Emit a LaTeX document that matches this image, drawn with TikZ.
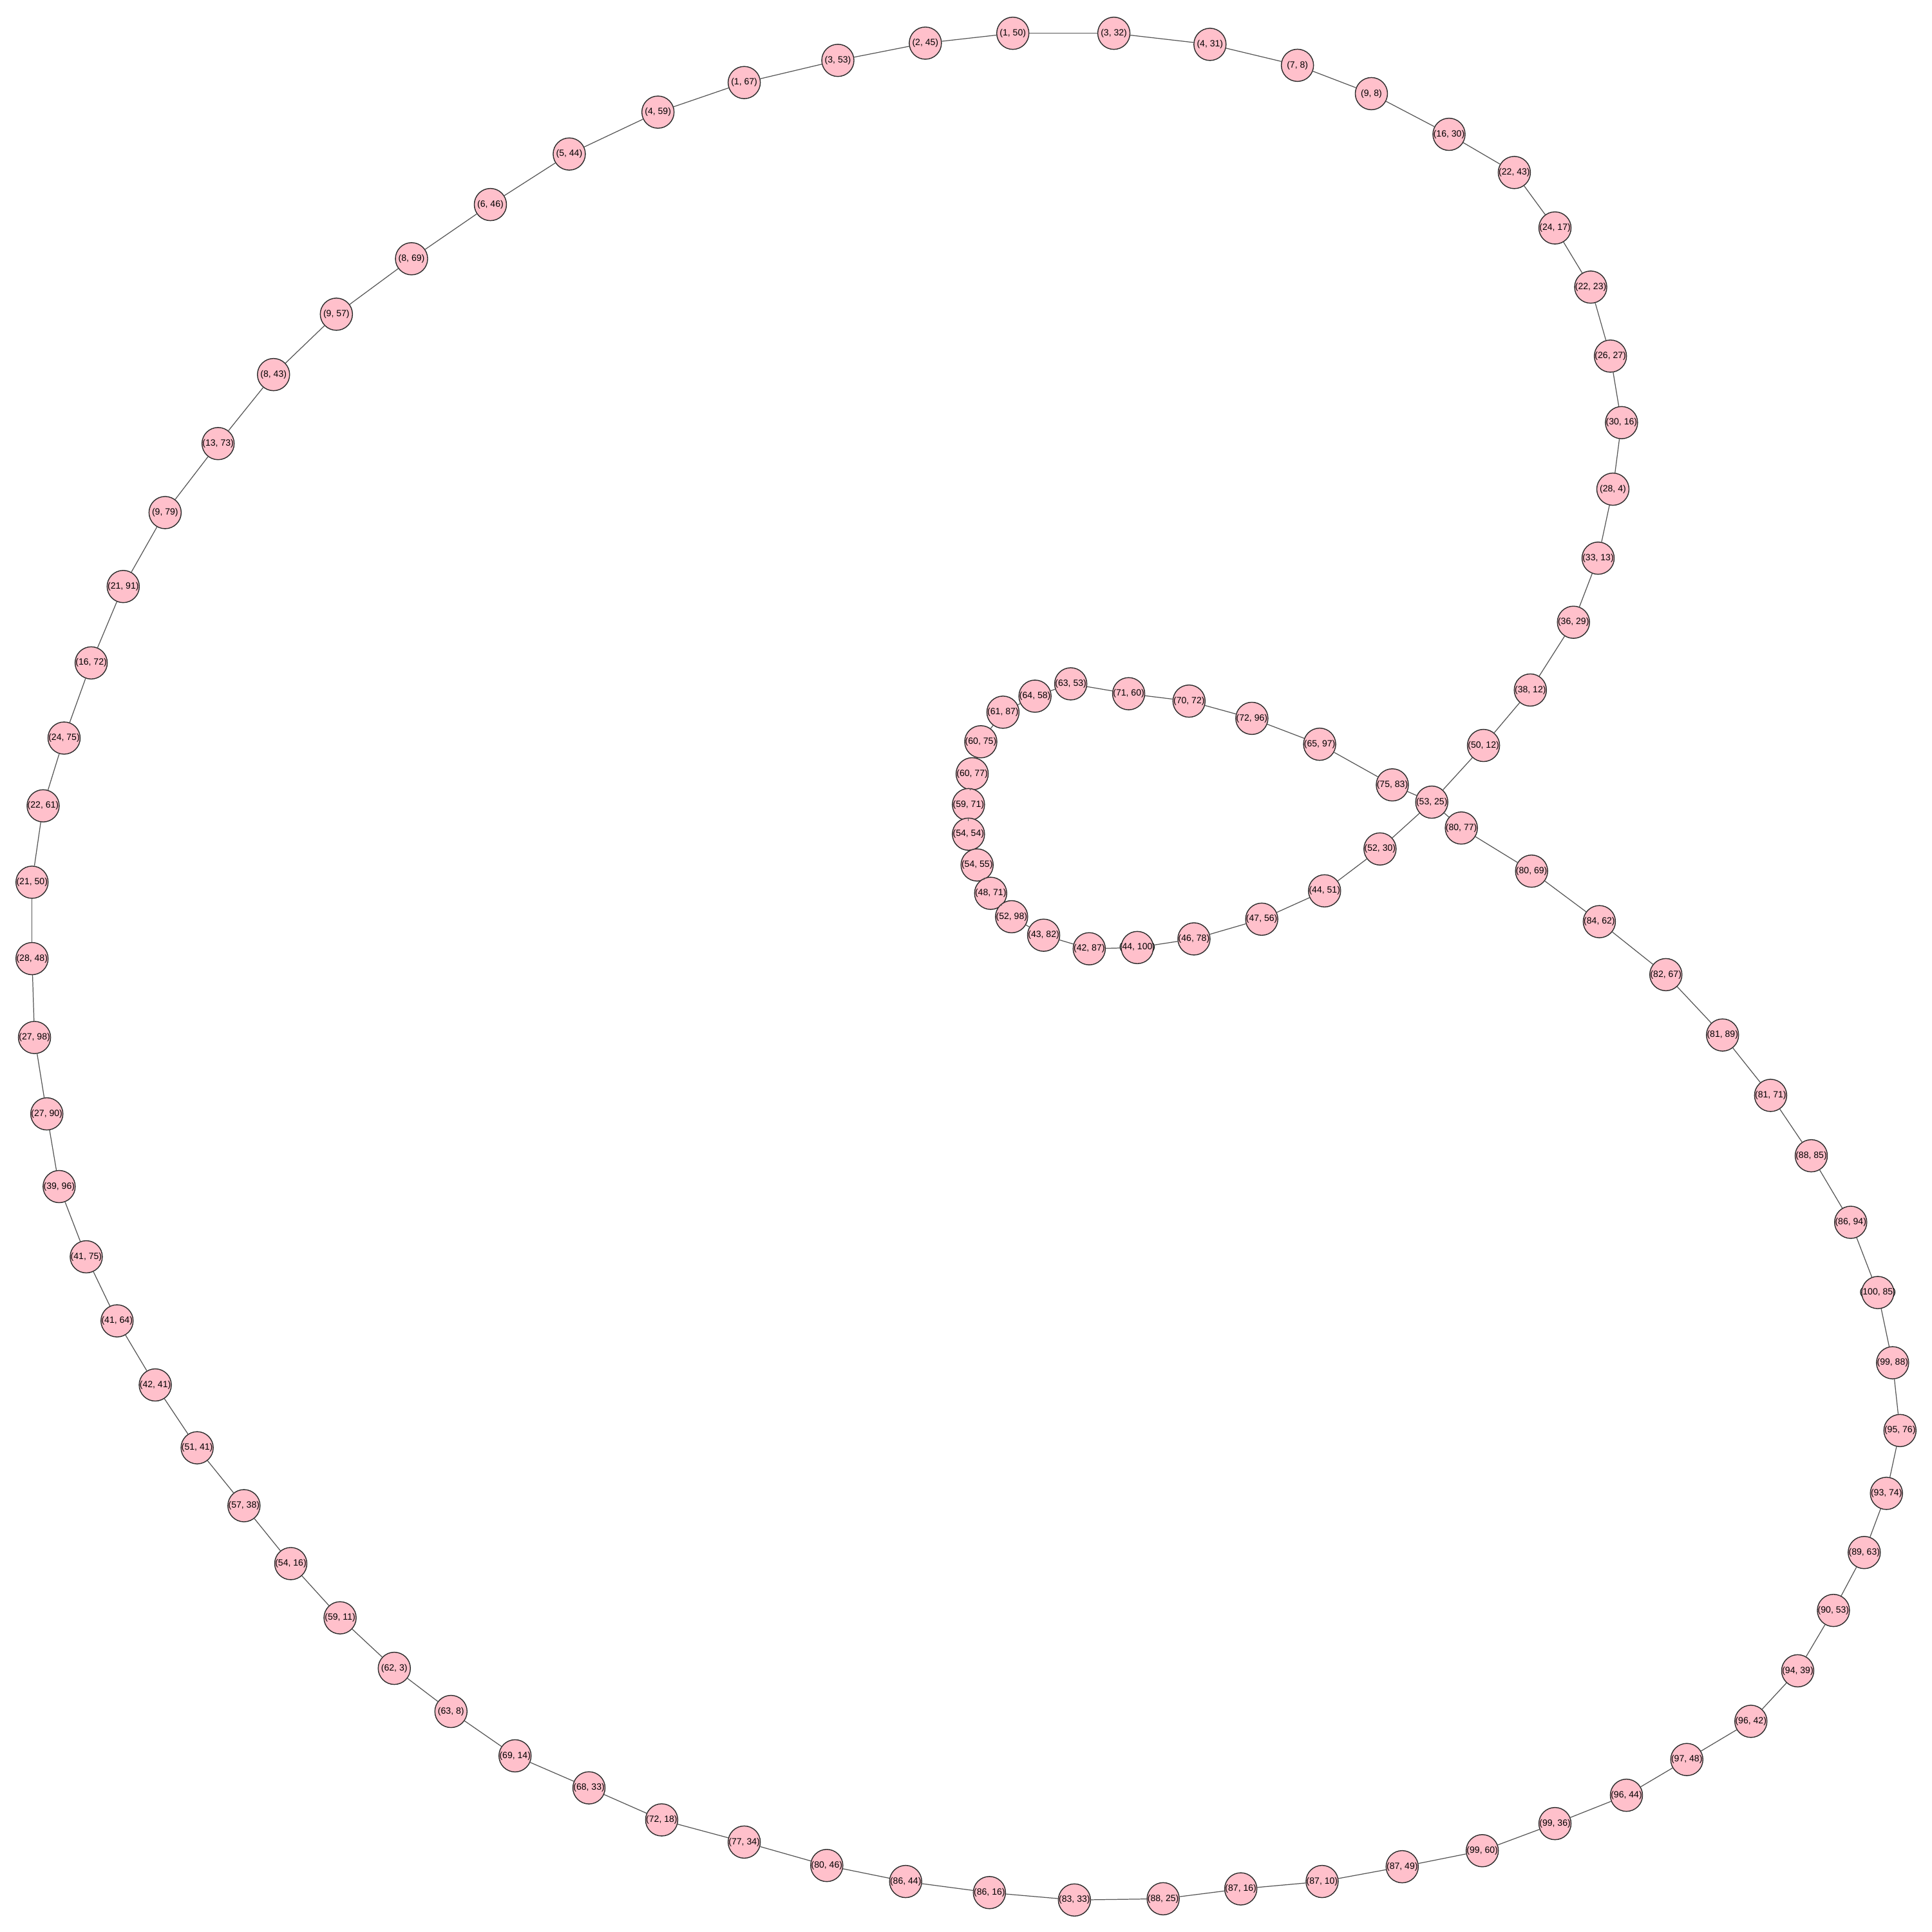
\documentclass[tikz,border=0pt]{standalone}
\usepackage{fontspec}
\usepackage{tikz}
\newfontfamily\lblfont{Liberation Sans}
\definecolor{nodepink}{HTML}{FFC0CB}
\definecolor{edgegrey}{HTML}{555555}
\definecolor{rimdark}{HTML}{2B2B2B}
\newcommand{\pairlbl}[2]{\makebox[0pt]{(#1, #2)}}

\begin{document}
\begin{tikzpicture}[x=0.1913mm,y=-0.1913mm,
  vtx/.style={circle,draw=rimdark,line width=.4pt,fill=nodepink,minimum size=5mm,inner sep=0pt,
    font=\lblfont\fontsize{4}{4}\selectfont},
  lnk/.style={draw=edgegrey,line width=.35pt}]
 \path[fill=white] (0,0) rectangle (1568,1568);
 \node[vtx] (p53-25) at (1162,651) {\pairlbl{53}{25}};
 % outer ring
 \foreach \a/\b/\x/\y [remember=\a as \pa (initially 53),remember=\b as \pb (initially 25)] in
  {50/12/1204/605, 38/12/1242/560, 36/29/1277/505, 33/13/1297/453, 28/4/1309/397,
   30/16/1316/343, 26/27/1307/289, 22/23/1291/233, 24/17/1262/185, 22/43/1229/140,
   16/30/1176/109, 9/8/1113/76, 7/8/1053/53, 4/31/982/36, 3/32/904/27, 1/50/822/27,
   2/45/751/35, 3/53/680/49, 1/67/604/67, 4/59/534/91, 5/44/462/125, 6/46/398/166,
   8/69/334/210, 9/57/273/255, 8/43/222/304, 13/73/177/360, 9/79/134/416, 21/91/100/476,
   16/72/74/538, 24/75/52/599, 22/61/35/654, 21/50/26/716, 28/48/26/778, 27/98/28/842,
   27/90/38/904, 39/96/48/963, 41/75/70/1020, 41/64/95/1072, 42/41/126/1124,
   51/41/160/1175, 57/38/198/1222, 54/16/236/1269, 59/11/276/1313, 62/3/320/1354,
   63/8/366/1389, 69/14/418/1425, 68/33/478/1451, 72/18/537/1477, 77/34/604/1495,
   80/46/671/1514, 86/44/735/1527, 86/16/803/1536, 83/33/872/1542, 88/25/944/1541,
   87/16/1007/1533, 87/10/1073/1527, 87/49/1138/1515, 99/60/1203/1502, 99/36/1262/1480,
   96/44/1320/1457, 97/48/1369/1428, 96/42/1421/1397, 94/39/1459/1356, 90/53/1488/1307,
   89/63/1513/1260, 93/74/1531/1212, 95/76/1542/1161, 99/88/1536/1106, 100/85/1524/1049,
   86/94/1502/992, 88/85/1470/938, 81/71/1437/889, 81/89/1398/840, 82/67/1352/791,
   84/62/1298/748, 80/69/1243/707, 80/77/1186/672}
 {
  \node[vtx] (p\a-\b) at (\x,\y) {\pairlbl{\a}{\b}};
  \draw[lnk] (p\pa-\pb) -- (p\a-\b);
 }
 \draw[lnk] (p80-77) -- (p53-25);
 % inner loop
 \foreach \a/\b/\x/\y [remember=\a as \pa (initially 53),remember=\b as \pb (initially 25)] in
  {75/83/1130/637, 65/97/1071/604, 72/96/1016/583, 70/72/965/569, 71/60/916/563,
   63/53/869/555, 64/58/840/565, 61/87/814/578, 60/75/796/602, 60/77/789/628,
   59/71/786/653, 54/54/786/677, 54/55/793/702, 48/71/804/725, 52/98/821/744,
   43/82/847/759, 42/87/884/770, 44/100/923/769, 46/78/969/762, 47/56/1024/746,
   44/51/1075/723, 52/30/1120/689}
 {
  \node[vtx] (p\a-\b) at (\x,\y) {\pairlbl{\a}{\b}};
  \draw[lnk] (p\pa-\pb) -- (p\a-\b);
 }
 \draw[lnk] (p52-30) -- (p53-25);
\end{tikzpicture}
\end{document}
